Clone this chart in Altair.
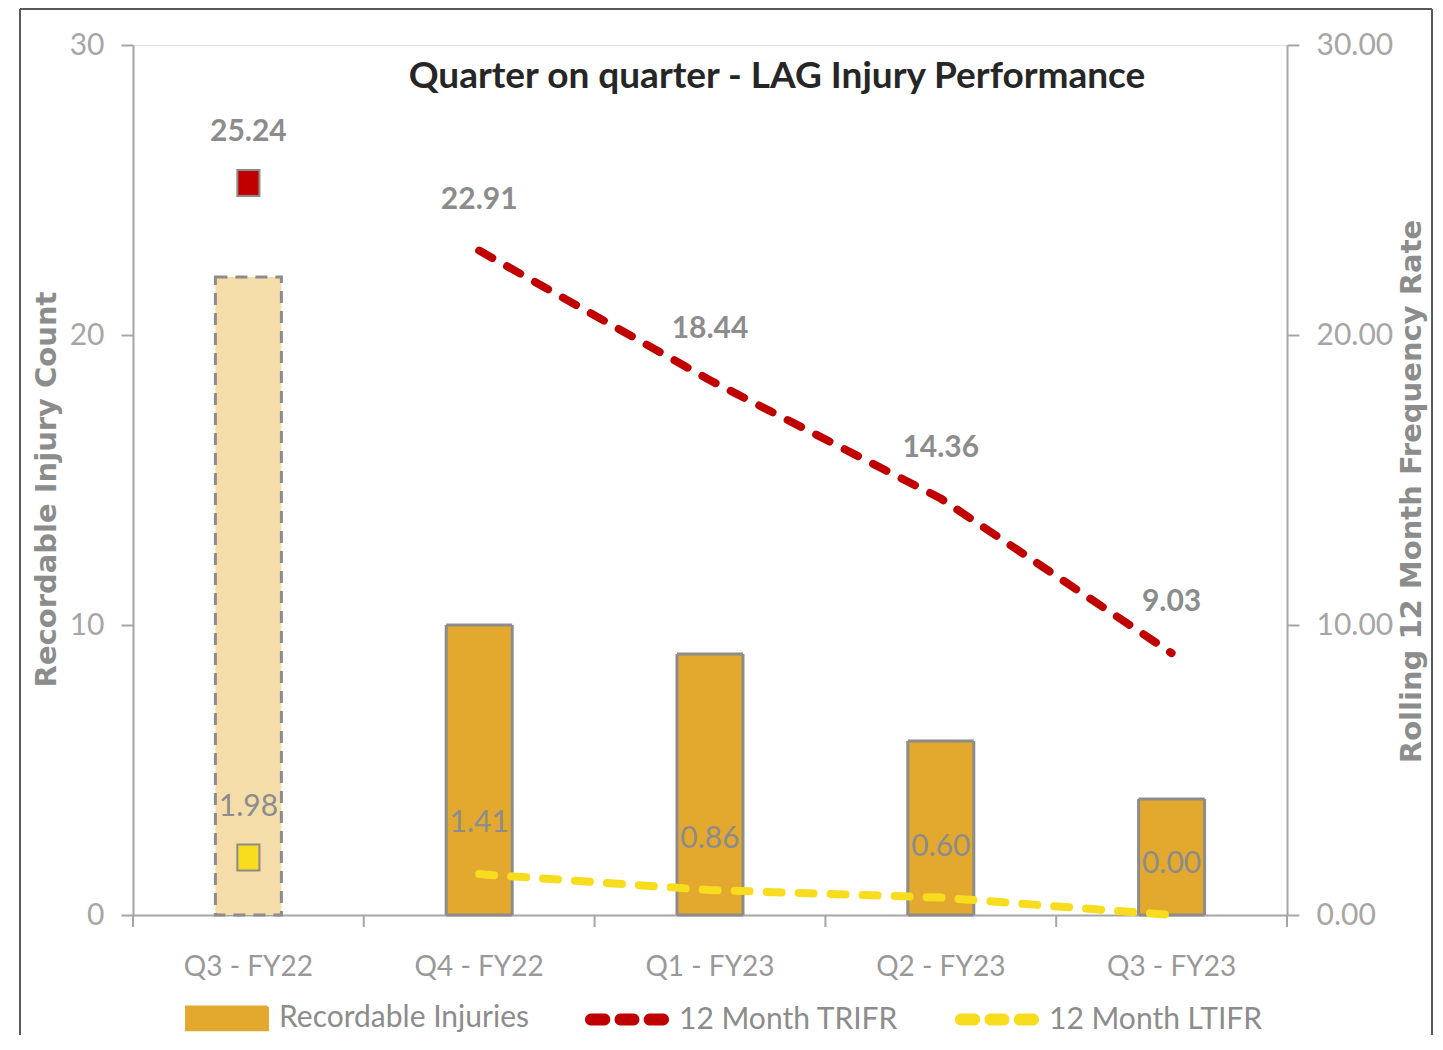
import altair as alt
import pandas as pd

quarters = ["Q3 - FY22", "Q4 - FY22", "Q1 - FY23", "Q2 - FY23", "Q3 - FY23"]
injuries = [22, 10, 9, 6, 4]
trifr = [25.24, 22.91, 18.44, 14.36, 9.03]
ltifr = [1.98, 1.41, 0.86, 0.60, 0.00]
series = ["Recordable Injuries", "12 Month TRIFR", "12 Month LTIFR"]
colors = ["#E3A82E", "#C00000", "#F8DC1E"]
title_text = "Quarter on quarter - LAG Injury Performance"

FONT = "Lato"
GREY = "#8c8c8c"
LGREY = "#a6a6a6"

bar_df = pd.DataFrame({"quarter": quarters, "count": injuries, "series": series[0]})
rate_rows = []
for i, q in enumerate(quarters):
    kind = "point" if i == 0 else "line"
    rate_rows.append({"quarter": q, "rate": trifr[i], "series": series[1], "kind": kind})
    rate_rows.append({"quarter": q, "rate": ltifr[i], "series": series[2], "kind": kind})
rate_df = pd.DataFrame(rate_rows)
one = pd.DataFrame({"t": [title_text]})
edge_df = pd.DataFrame({"quarter": quarters})

W, H = 1154, 870

xenc = alt.X("quarter:N", sort=quarters,
             scale=alt.Scale(domain=quarters, paddingInner=0, paddingOuter=0),
             axis=alt.Axis(title=None, ticks=False, labelAngle=0, labelFont=FONT,
                           labelFontSize=28, labelColor="#999999", labelPadding=38,
                           domainColor=LGREY, domainWidth=2))

color_scale = alt.Scale(domain=series, range=colors)

rect_path = "M-1,-0.28H1V0.28H-1Z"
def seg(a, b, h=0.11):
    return (f"M{a+h:.3f},{-h}H{b-h:.3f}A{h},{h} 0 0 1 {b-h:.3f},{h}"
            f"H{a+h:.3f}A{h},{h} 0 0 1 {a+h:.3f},{-h}Z")
dash_path = seg(-1, -0.45) + seg(-0.27, 0.27) + seg(0.45, 1)

legend = alt.Legend(
    title=None, orient="none", direction="horizontal", legendX=52, legendY=931,
    labelFont=FONT, labelFontSize=30, labelColor="#8c8c8c", labelOffset=10,
    symbolSize=6561, columnPadding=51, labelLimit=400,
    symbolType=alt.ExprRef(expr=f"datum.value === 'Recordable Injuries' ? '{rect_path}' : '{dash_path}'"),
    symbolStrokeColor=alt.ExprRef(expr="datum.value === 'Recordable Injuries' ? '#8c8c8c' : 'transparent'"),
    symbolStrokeWidth=3, symbolOpacity=1, symbolDash=[1, 0],
)

first = f"datum.quarter === '{quarters[0]}'"

bars = alt.Chart(bar_df).mark_bar(size=66, stroke=GREY, strokeWidth=3).encode(
    x=xenc,
    y=alt.Y("count:Q", scale=alt.Scale(domain=[0, 30], nice=False),
            axis=alt.Axis(title="Recordable Injury Count", values=[0, 10, 20, 30],
                          grid=False, labelFont=FONT, labelFontSize=30, labelColor=LGREY,
                          tickColor=LGREY, tickSize=12, tickWidth=2, domainColor=LGREY,
                          domainWidth=2, labelPadding=17, titleFont="DejaVu Sans",
                          titleFontSize=29, titleFontWeight="bold", titleColor=GREY,
                          titlePadding=8, titleY=444)),
    color=alt.condition(first, alt.value("#F5DDAA"),
                        alt.Color("series:N", scale=color_scale, legend=legend)),
    strokeDash=alt.condition(first, alt.value([12, 8]), alt.value([1, 0])),
)

ticks = alt.Chart(edge_df).mark_rule(color=LGREY, strokeWidth=2).encode(
    x=alt.X("quarter:N", sort=quarters, bandPosition=0),
    y=alt.value(H), y2=alt.value(H + 12))
ticks_end = alt.Chart(edge_df.tail(1)).mark_rule(color=LGREY, strokeWidth=2).encode(
    x=alt.X("quarter:N", sort=quarters, bandPosition=1),
    y=alt.value(H), y2=alt.value(H + 12))

title = alt.Chart(one).mark_text(font=FONT, fontSize=37,
                                 fontWeight="bold", color="#262626").encode(
    x=alt.value(644), y=alt.value(32), text="t:N")

frame_l = alt.Chart(one).mark_rule(color="#595959", strokeWidth=2).encode(
    x=alt.value(-113), y=alt.value(-36), y2=alt.value(990))
frame_r = alt.Chart(one).mark_rule(color="#595959", strokeWidth=2).encode(
    x=alt.value(1299), y=alt.value(-36), y2=alt.value(990))
frame_t = alt.Chart(one).mark_rule(color="#595959", strokeWidth=2).encode(
    x=alt.value(-113), x2=alt.value(1299), y=alt.value(-36))

left = alt.layer(frame_l, frame_r, frame_t, bars, ticks, ticks_end, title)

yrate = alt.Y("rate:Q", scale=alt.Scale(domain=[0, 30], nice=False),
              axis=alt.Axis(title="Rolling 12 Month Frequency Rate", orient="right",
                            values=[0, 10, 20, 30], format=".2f", grid=False,
                            labelFont=FONT, labelFontSize=30, labelColor=LGREY,
                            tickColor=LGREY, tickSize=12, tickWidth=2, domainColor=LGREY,
                            domainWidth=2, labelPadding=17, titleFont="DejaVu Sans",
                            titleFontSize=29, titleFontWeight="bold", titleColor=GREY,
                            titleAngle=270, titlePadding=34, titleY=446))

lines = alt.Chart(rate_df).transform_filter("datum.kind === 'line'").mark_line(
    strokeWidth=8, strokeDash=[15, 17], strokeCap="round").encode(
    x=alt.X("quarter:N", sort=quarters), y=yrate,
    color=alt.Color("series:N", scale=color_scale, legend=None),
    detail="series:N")

points = alt.Chart(rate_df).transform_filter("datum.kind === 'point'").mark_point(
    shape="M-0.85,-1H0.85V1H-0.85Z", size=676, filled=True, opacity=1,
    stroke=GREY, strokeWidth=2).encode(
    x=alt.X("quarter:N", sort=quarters), y=yrate,
    fill=alt.Fill("series:N", scale=color_scale, legend=None))

lab_t = alt.Chart(rate_df).transform_filter(f"datum.series === '{series[1]}'").mark_text(
    font=FONT, fontSize=30, fontWeight="bold", color="#8c8c8c", dy=-51).encode(
    x=alt.X("quarter:N", sort=quarters), y=yrate, text=alt.Text("rate:Q", format=".2f"))
lab_l = alt.Chart(rate_df).transform_filter(f"datum.series === '{series[2]}'").mark_text(
    font=FONT, fontSize=30, color="#8c8c8c", dy=-51).encode(
    x=alt.X("quarter:N", sort=quarters), y=yrate, text=alt.Text("rate:Q", format=".2f"))

right = alt.layer(lines, points, lab_t, lab_l)

chart = alt.layer(left, right).resolve_scale(y="independent").properties(
    width=W, height=H, padding={"left": 11, "top": 0, "right": 0, "bottom": 0}
).configure_view(stroke=None).configure(background="white")

chart.save("out.html", embed_options={"renderer": "svg", "actions": False})
